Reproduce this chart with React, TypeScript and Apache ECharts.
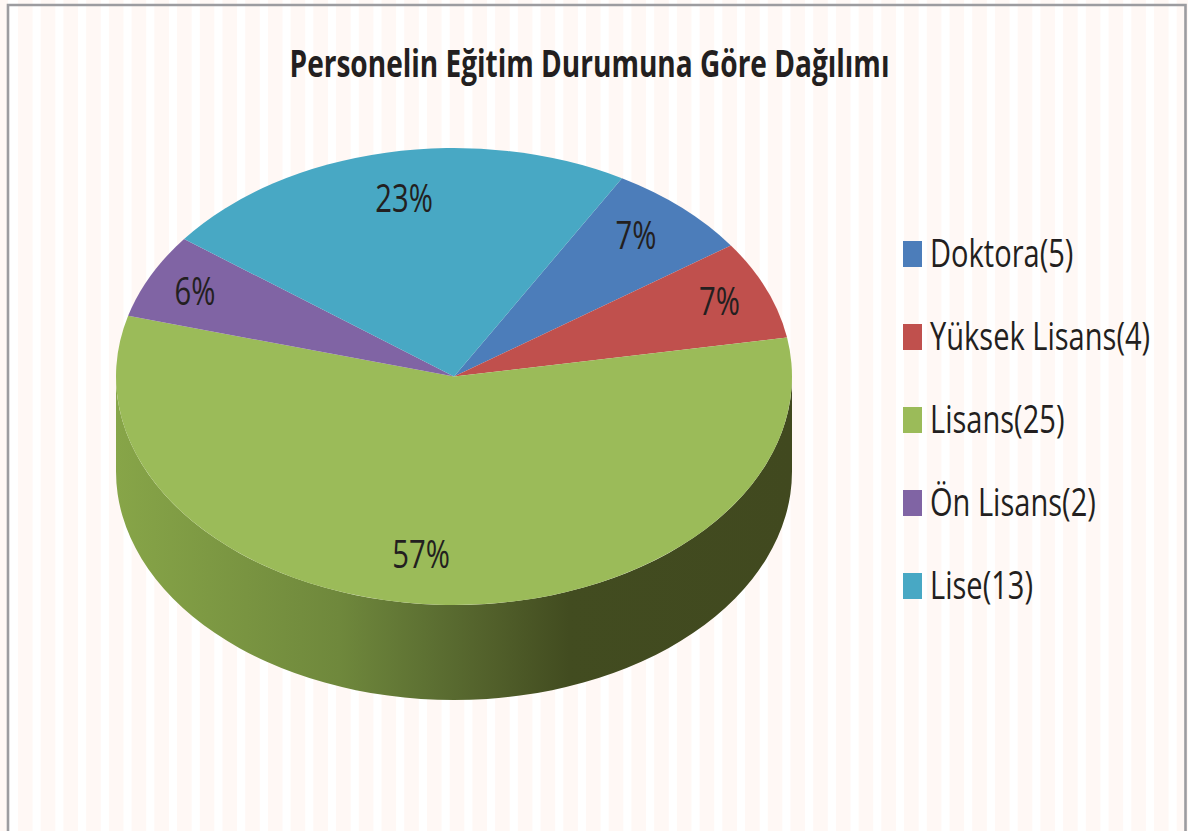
import React, { useEffect, useRef } from "react";
import * as echarts from "echarts";

const title = "Personelin Eğitim Durumuna Göre Dağılımı";
const categories = ["Doktora(5)", "Yüksek Lisans(4)", "Lisans(25)", "Ön Lisans(2)", "Lise(13)"];
const percents = [7, 7, 57, 6, 23];
const colors = ["#4c7dba", "#c0504d", "#9bbb59", "#8064a4", "#48a8c4"];

const W = 1188, H = 831;
const CX = 454, CY = 376.5, RX = 338, RY = 228.5, DEPTH = 95;
const START_DEG = 29.8;
const LABEL_POS: [number, number][] = [[636, 234], [719.5, 300], [421, 553], [195, 290], [404, 197]];
const FONT = '"Open Sans", sans-serif';
const INK = "#231f20";
const PALE = "#fff8f5";
const NARROW = 0.75;

const pt = (deg: number, dy = 0) => {
  const r = (deg * Math.PI) / 180;
  return [CX + RX * Math.sin(r), CY - RY * Math.cos(r) + dy];
};

function sliceRange(i: number) {
  const total = percents.reduce((a, b) => a + b, 0);
  const before = percents.slice(0, i).reduce((a, b) => a + b, 0);
  return [START_DEG + (before / total) * 360, START_DEG + ((before + percents[i]) / total) * 360];
}

function topPath(a: number, b: number) {
  const [x0, y0] = pt(a);
  const [x1, y1] = pt(b);
  return `M${CX} ${CY}L${x0} ${y0}A${RX} ${RY} 0 ${b - a > 180 ? 1 : 0} 1 ${x1} ${y1}Z`;
}

function wallPath(a: number, b: number) {
  const s = Math.max(a, 90), e = Math.min(b, 270);
  if (e <= s) return null;
  const [x0, y0] = pt(s);
  const [x1, y1] = pt(e);
  const [x2, y2] = pt(e, DEPTH);
  const [x3, y3] = pt(s, DEPTH);
  return `M${x0} ${y0}A${RX} ${RY} 0 0 1 ${x1} ${y1}L${x2} ${y2}A${RX} ${RY} 0 0 0 ${x3} ${y3}Z`;
}

const wallFill = new echarts.graphic.LinearGradient(0, 0, 1, 0, [
  { offset: 0, color: "#87a548" },
  { offset: 0.33, color: "#6f883c" },
  { offset: 0.47, color: "#5c6f32" },
  { offset: 0.56, color: "#515f2a" },
  { offset: 0.67, color: "#424c20" },
  { offset: 1, color: "#41491f" },
]);

function backdrop() {
  const out: any[] = [{ type: "rect", shape: { x: 0, y: 0, width: W, height: H }, style: { fill: "#ffffff" } }];
  out.push({ type: "rect", shape: { x: 0, y: 0, width: 8, height: H }, style: { fill: PALE } });
  for (let x = 18; x < W; x += 22.72) {
    out.push({ type: "rect", shape: { x, y: 0, width: 14.6, height: H }, style: { fill: PALE } });
  }
  out.push({
    type: "rect",
    shape: { x: 8, y: 5, width: 1177.5, height: H + 40 },
    style: { fill: "transparent", stroke: "#9c9ca0", lineWidth: 2.6 },
  });
  return out;
}

function titleAndLegend() {
  const out: any[] = [
    {
      type: "text",
      x: 589.5,
      y: 62,
      scaleX: 0.738,
      style: {
        text: title,
        align: "center",
        verticalAlign: "middle",
        fill: INK,
        font: `bold 38px ${FONT}`,
      },
    },
  ];
  categories.forEach((name, i) => {
    const y = 254 + 83 * i;
    out.push({ type: "rect", shape: { x: 903, y: y - 13, width: 19, height: 26 }, style: { fill: colors[i] } });
    out.push({
      type: "text",
      x: 930,
      y: y - 2,
      scaleX: 0.745,
      style: { text: name, align: "left", verticalAlign: "middle", fill: INK, font: `39px ${FONT}` },
    });
  });
  return out;
}

export default function App() {
  const ref = useRef<HTMLDivElement>(null);
  useEffect(() => {
    const chart = echarts.init(ref.current!, undefined, { renderer: "svg" });
    chart.setOption({
      animation: false,
      graphic: { elements: [...backdrop(), ...titleAndLegend()] },
      series: categories.map((name, i) => ({
        type: "custom",
        name,
        coordinateSystem: "none",
        itemStyle: { color: colors[i] },
        data: [percents[i]],
        renderItem: (_p: any, api: any) => {
          const [a, b] = sliceRange(i);
          const wall = wallPath(a, b);
          const children: any[] = [];
          if (wall) children.push({ type: "path", shape: { pathData: wall }, style: { fill: wallFill } });
          children.push({ type: "path", shape: { pathData: topPath(a, b) }, style: { fill: colors[i] } });
          children.push({
            type: "text",
            z2: 50,
            x: LABEL_POS[i][0],
            y: LABEL_POS[i][1],
            scaleX: NARROW,
            style: {
              text: `${api.value(0)}%`,
              align: "center",
              verticalAlign: "middle",
              fill: INK,
              font: `39px ${FONT}`,
            },
          });
          return { type: "group", children };
        },
      })),
    });
    return () => chart.dispose();
  }, []);
  return <div ref={ref} style={{ position: "absolute", left: 0, top: 0, width: W, height: H }} />;
}
